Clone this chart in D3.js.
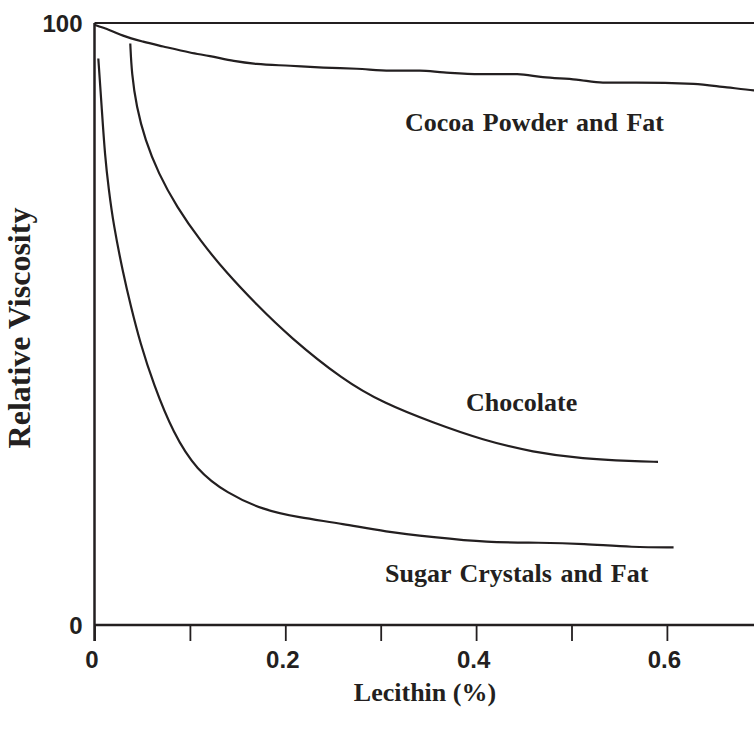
<!DOCTYPE html>
<html>
<head>
<meta charset="utf-8">
<script src="https://cdn.jsdelivr.net/npm/d3@7"></script>
<style>
  html, body { margin: 0; padding: 0; background: #fff; }
  svg { display: block; }
</style>
</head>
<body>
<svg id="chart" width="754" height="730"></svg>
<script>
// ---- data ----
const cocoaX = [0, 0.016, 0.030, 0.051, 0.072, 0.100, 0.121, 0.146, 0.170, 0.205, 0.240, 0.275, 0.310, 0.341, 0.366, 0.404, 0.443, 0.470, 0.505, 0.533, 0.568, 0.628, 0.663, 0.691, 0.70];
const cocoaY = [99.7, 98.8, 97.9, 96.9, 96.1, 95.1, 94.5, 93.7, 93.2, 92.9, 92.6, 92.4, 92.1, 92.1, 91.8, 91.5, 91.5, 91.0, 90.6, 90.1, 90.1, 89.9, 89.3, 88.8, 88.6];

const chocX = [0.0375, 0.039, 0.044, 0.053, 0.067, 0.086, 0.111, 0.1378, 0.1693, 0.2049, 0.2605, 0.3024, 0.3548, 0.4072, 0.4596, 0.512, 0.5645, 0.5907];
const chocY = [96.6, 91.6, 86.1, 80.6, 75.0, 69.5, 63.8, 58.6, 53.3, 47.8, 40.7, 36.9, 33.6, 30.7, 28.7, 27.6, 27.2, 27.1];

const sugarX = [0.004, 0.0075, 0.011, 0.015, 0.0197, 0.030, 0.038, 0.048, 0.0616, 0.0826, 0.107, 0.1386, 0.177, 0.213, 0.261, 0.3045, 0.355, 0.411, 0.467, 0.512, 0.565, 0.607];
const sugarY = [94.1, 86.1, 77.8, 72.3, 66.7, 58.4, 53.0, 46.8, 40.1, 31.8, 25.7, 21.9, 19.1, 17.9, 16.8, 15.5, 14.6, 13.7, 13.7, 13.5, 12.9, 12.9];

const xTickValues = [0, 0.1, 0.2, 0.3, 0.4, 0.5, 0.6];
const xTickLabels = ["0", "", "0.2", "", "0.4", "", "0.6"];
const yTickValues = [0, 100];
const yTickLabels = ["0", "100"];

const seriesNames = ["Cocoa Powder and Fat", "Chocolate", "Sugar Crystals and Fat"];
const xTitle = "Lecithin (%)";
const yTitle = "Relative Viscosity";

// ---- layout ----
const svg = d3.select("#chart");
const ink = "#231f20";
const x = d3.scaleLinear().domain([0, 0.7]).range([94.5, 94.5 + 0.7 * 954]);
const y = d3.scaleLinear().domain([0, 100]).range([625, 23]);

// frame: top line
svg.append("line")
  .attr("x1", x(0)).attr("x2", 760)
  .attr("y1", y(100)).attr("y2", y(100))
  .attr("stroke", ink).attr("stroke-width", 2.2);

// x axis
const xAxis = d3.axisBottom(x)
  .tickValues(xTickValues)
  .tickSize(16)
  .tickFormat((d, i) => xTickLabels[i]);
const gx = svg.append("g").attr("transform", `translate(0,${y(0)})`).call(xAxis);
gx.select(".domain").attr("d", `M${x(0)},0H760`).attr("stroke", ink).attr("stroke-width", 2.5);
gx.selectAll(".tick line").attr("stroke", ink).attr("stroke-width", 1.8);
gx.selectAll(".tick text")
  .attr("y", 43).attr("dy", 0).attr("dx", -3)
  .attr("fill", ink)
  .style("font-family", "'Liberation Sans', Arial, sans-serif")
  .style("font-weight", "bold")
  .style("font-size", "24px");

// y axis
const yAxis = d3.axisLeft(y)
  .tickValues(yTickValues)
  .tickSize(0)
  .tickPadding(12)
  .tickFormat((d, i) => yTickLabels[i]);
const gy = svg.append("g").attr("transform", `translate(${x(0)},0)`).call(yAxis);
gy.select(".domain").attr("d", `M0,${y(100)}V${y(0) + 16}`).attr("stroke", ink).attr("stroke-width", 2.5);
gy.selectAll(".tick text")
  .attr("fill", ink)
  .attr("dy", "0.35em")
  .style("font-family", "'Liberation Sans', Arial, sans-serif")
  .style("font-weight", "bold")
  .style("font-size", "24px");

// curves
const lineMono = d3.line()
  .x(d => x(d[0]))
  .y(d => y(d[1]))
  .curve(d3.curveMonotoneX);
const lineSmooth = d3.line()
  .x(d => x(d[0]))
  .y(d => y(d[1]))
  .curve(d3.curveBasis);
const series = [
  { pts: d3.zip(cocoaX, cocoaY), gen: lineMono },
  { pts: d3.zip(chocX, chocY), gen: lineSmooth },
  { pts: d3.zip(sugarX, sugarY), gen: lineSmooth }
];
svg.append("g").selectAll("path").data(series).join("path")
  .attr("d", d => d.gen(d.pts))
  .attr("fill", "none")
  .attr("stroke", ink)
  .attr("stroke-width", 2.2);

// series labels
const serif = "'Liberation Serif', 'Times New Roman', serif";
const labelPos = [[0.3255, 82.1], [0.3894, 35.5], [0.3045, 7.1]];
svg.append("g").selectAll("text").data(seriesNames).join("text")
  .attr("x", (d, i) => x(labelPos[i][0]))
  .attr("y", (d, i) => y(labelPos[i][1]))
  .attr("fill", ink)
  .style("font-family", serif)
  .style("font-weight", "bold")
  .style("font-size", "26px")
  .style("word-spacing", "2px")
  .text(d => d);

// axis titles
svg.append("text")
  .attr("x", 425).attr("y", 701)
  .attr("text-anchor", "middle")
  .attr("fill", ink)
  .style("font-family", serif).style("font-weight", "bold").style("font-size", "26px")
  .text(xTitle);
svg.append("text")
  .attr("transform", "translate(30,328) rotate(-90)")
  .attr("text-anchor", "middle")
  .attr("fill", ink)
  .style("font-family", serif).style("font-weight", "bold").style("font-size", "32px")
  .text(yTitle);
</script>
</body>
</html>
